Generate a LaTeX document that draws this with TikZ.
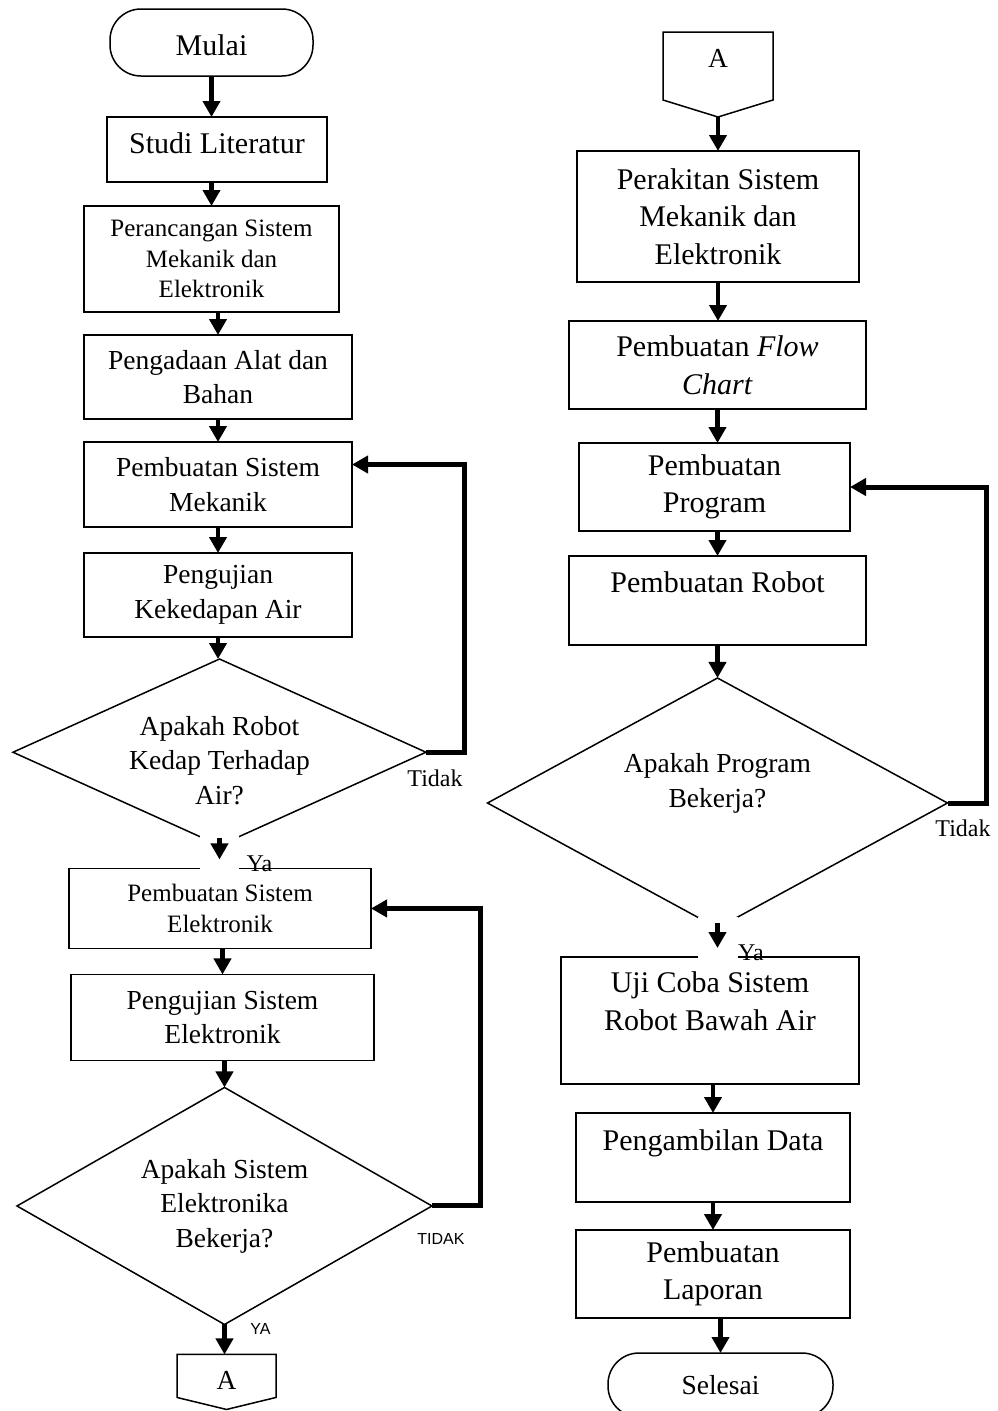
\documentclass[tikz,border=0pt]{standalone}
\usepackage{fontspec}
\setmainfont{Liberation Serif}
\newfontfamily\labsans{Liberation Sans}
\usetikzlibrary{arrows.meta,positioning,shapes.geometric,calc}

\begin{document}
\begin{tikzpicture}[x=1pt, y=1pt, >={Triangle[length=16pt,width=17pt]},
 fL/.style={font=\fontsize{30}{37.5}\selectfont},
 fM/.style={font=\fontsize{27.5}{34.5}\selectfont},
 fS/.style={font=\fontsize{25}{30.5}\selectfont},
 box/.style={draw, line width=1.8pt, align=center, inner sep=0pt, outer sep=0pt, fM},
 term/.style={draw, line width=1.5pt, rounded corners=31pt, align=center, inner sep=0pt, outer sep=0pt, fL},
 decision/.style={draw, diamond, aspect=2.2, line width=1.5pt, align=center, inner sep=0pt, outer sep=0pt, fM},
 conn/.style={inner sep=0pt, outer sep=0pt, fM},
 line/.style={->, line width=4.5pt},
 retline/.style={->, line width=5pt},
 lab/.style={font=\fontsize{24}{28}\selectfont},
 labs/.style={font=\labsans\fontsize{16}{19}\selectfont}]
\useasboundingbox (0,0) rectangle (997,-1411);
% left column
\node[term, minimum width=203pt, minimum height=67pt, text height=27pt] (start) at (211.5,-42.5) {Mulai};
\node[box, fL, minimum width=220pt, minimum height=65pt, text depth=12pt, below=41pt of start, xshift=5.5pt] (lit) {Studi Literatur};
\node[box, fS, minimum width=255pt, minimum height=106pt, below=24pt of lit, xshift=-5.5pt] (design) {Perancangan Sistem\\Mekanik dan\\Elektronik};
\node[box, minimum width=268pt, minimum height=84pt, below=23pt of design, xshift=6.5pt] (supply) {Pengadaan Alat dan\\Bahan};
\node[box, minimum width=268pt, minimum height=85pt, below=23pt of supply] (mech) {Pembuatan Sistem\\Mekanik};
\node[box, minimum width=268pt, minimum height=84pt, below=26pt of mech] (sealtest) {Pengujian\\Kekedapan Air};
\node[decision, minimum width=413pt, minimum height=184pt, below=22pt of sealtest, xshift=1.5pt] (sealq) {\rule{0pt}{35pt}Apakah Robot\\Kedap Terhadap\\Air?};
\node[box, fS, minimum width=302pt, minimum height=80pt, below=23pt of sealq, xshift=0.5pt] (elec) {Pembuatan Sistem\\Elektronik};
\node[box, minimum width=303pt, minimum height=86pt, below=26pt of elec, xshift=2.5pt] (electest) {Pengujian Sistem\\Elektronik};
\node[decision, minimum width=415pt, minimum height=237pt, below=27pt of electest, xshift=2pt] (elecq) {Apakah Sistem\\Elektronika\\Bekerja?};
\node[conn, minimum width=99pt, minimum height=43pt, text height=27pt, text depth=0pt, below=30pt of elecq, xshift=2pt] (outA) {A};
\draw[line width=1.5pt] (outA.north west) -- (outA.north east) -- (outA.south east) -- ($(outA.south)+(0,-12)$) -- (outA.south west) -- cycle;

% right column
\node[conn, minimum width=110pt, minimum height=68pt, text height=18pt, text depth=16pt] (inA) at (718,-66) {A};
\coordinate (inAtip) at ($(inA.south)+(0,-17)$);
\draw[line width=1.5pt] (inA.north west) -- (inA.north east) -- (inA.south east) -- (inAtip) -- (inA.south west) -- cycle;
\node[box, fL, minimum width=282pt, minimum height=131pt, below=34pt of inAtip] (build) {Perakitan Sistem\\Mekanik dan\\Elektronik};
\node[box, fL, minimum width=297pt, minimum height=88pt, below=39pt of build, xshift=-0.5pt] (flow) {Pembuatan \textit{Flow}\\\textit{Chart}};
\node[box, fL, minimum width=271pt, minimum height=88pt, below=34pt of flow, xshift=-3pt] (prog) {Pembuatan\\Program};
\node[box, fL, minimum width=297pt, minimum height=89pt, below=25pt of prog, xshift=3pt] (robot) {Pembuatan Robot\\[-12pt]\strut};
\node[decision, minimum width=460pt, minimum height=250pt, below=33pt of robot] (progq) {Apakah Program\\Bekerja?\\\strut};
\node[box, fL, minimum width=298pt, minimum height=127pt, below=29pt of progq, xshift=-7.5pt] (trial) {Uji Coba Sistem\\Robot Bawah Air\\[-10pt]\strut};
\node[box, fL, minimum width=274pt, minimum height=89pt, below=29pt of trial, xshift=3pt] (data) {Pengambilan Data\\[-14pt]\strut};
\node[box, fL, minimum width=274pt, minimum height=88pt, below=28pt of data] (report) {Pembuatan\\Laporan};
\node[term, fM, minimum width=225pt, minimum height=64pt, below=35pt of report, xshift=7.5pt] (finish) {Selesai};

% gaps under the decisions
\fill[white] ($(sealq.south)+(-20,10)$) rectangle ($(sealq.south |- elec.north)+(19,-2)$);
\fill[white] ($(progq.south)+(-20,11)$) rectangle ($(progq.south |- trial.north)+(20,-2)$);

% arrows
\draw[line] (start) -- (start |- lit.north);
\draw[line] (design |- lit.south) -- (design);
\draw[line] (supply |- design.south) -- (supply);
\draw[line] (supply) -- (mech);
\draw[line] (mech) -- (sealtest);
\draw[line] (sealtest) -- (sealtest |- sealq.north);
\draw[line] ($(sealq.south)+(0,7)$) -- ($(sealq.south |- elec.north)+(0,9)$);
\draw[line] (electest |- elec.south) -- (electest);
\draw[line] (elecq |- electest.south) -- (elecq);
\draw[line] (elecq) -- (elecq |- outA.north);
\draw[retline] (sealq.east) -- ++(38,0) |- ($(mech.east)+(0,20)$);
\draw[retline] (elecq.east) -- ++(48,0) |- (elec.east);

\draw[line] (inAtip) -- (build);
\draw[line] (build) -- (build |- flow.north);
\draw[line] (flow) -- (flow |- prog.north);
\draw[line] (robot |- prog.south) -- (robot);
\draw[line] (robot) -- (progq);
\draw[line] ($(progq.south)+(0,5)$) -- ($(progq.south |- trial.north)+(0,9)$);
\draw[line] (data |- trial.south) -- (data);
\draw[line] (data) -- (report);
\draw[line] (finish |- report.south) -- (finish);
\draw[retline] (progq.east) -- ++(38.5,0) |- (prog.east);

% labels
\node[lab] (no1) at ($(sealq.east)+(9,-26)$) {Tidak};
\node[lab] (yes1) at ($(sealq.south)+(40,-18)$) {Ya};
\node[labs] (no2) at ($(elecq.east)+(9,-33.5)$) {TIDAK};
\node[labs] (yes2) at ($(elecq.south)+(36,-5)$) {YA};
\node[lab] (no3) at ($(progq.east)+(15.5,-25)$) {Tidak};
\node[lab] (yes3) at ($(progq.south)+(33.5,-25)$) {Ya};
\end{tikzpicture}
\end{document}
